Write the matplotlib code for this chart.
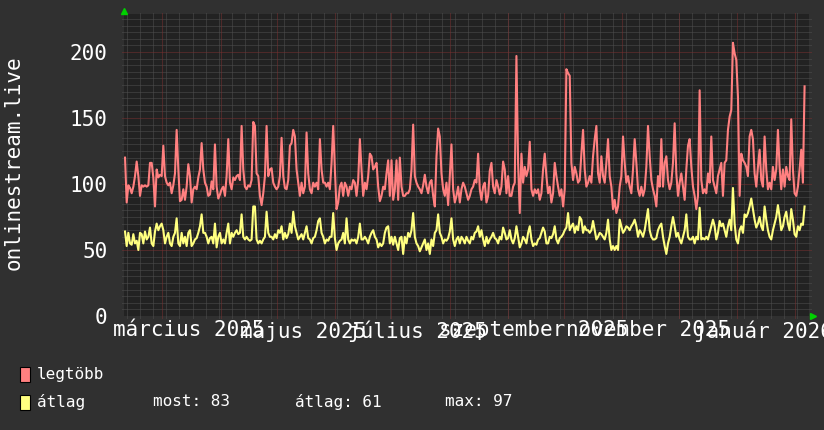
import matplotlib
matplotlib.use("Agg")
import matplotlib.pyplot as plt
import matplotlib.dates as mdates
from matplotlib.patches import Rectangle
from matplotlib.transforms import offset_copy
from datetime import datetime, timedelta

# napi adatok (legtöbb / átlag nézők)
legtobb = [
    120, 86, 99, 97, 93, 98, 106, 117, 106, 91, 99, 98, 99, 98, 99, 116, 116, 105, 83, 111,
    105, 107, 106, 129, 106, 101, 99, 101, 93, 99, 108, 141, 111, 87, 88, 96, 88, 98, 115, 106,
    86, 96, 98, 96, 105, 111, 131, 111, 101, 98, 91, 92, 102, 96, 130, 98, 89, 92, 96, 98,
    91, 106, 134, 101, 96, 105, 103, 106, 107, 103, 144, 111, 98, 96, 99, 98, 103, 147, 144, 108,
    106, 91, 84, 93, 106, 144, 106, 111, 112, 101, 98, 96, 98, 106, 135, 106, 97, 96, 103, 129,
    131, 141, 136, 111, 101, 91, 101, 93, 98, 139, 108, 96, 93, 101, 98, 101, 96, 134, 111, 101,
    101, 98, 101, 96, 116, 144, 111, 81, 86, 98, 101, 91, 101, 98, 91, 98, 96, 103, 101, 91,
    103, 134, 111, 91, 101, 96, 106, 123, 121, 111, 113, 116, 98, 87, 91, 98, 96, 108, 118, 91,
    118, 88, 96, 118, 88, 120, 98, 91, 91, 93, 93, 96, 111, 145, 106, 101, 98, 96, 93, 99,
    107, 98, 93, 101, 103, 91, 83, 121, 142, 136, 108, 96, 91, 101, 84, 106, 130, 96, 86, 91,
    98, 86, 96, 101, 98, 93, 88, 91,
    96, 98, 103, 101, 123, 96, 88, 98, 101, 86, 91, 110, 116, 98, 93, 103, 98, 92, 98, 117,
    111, 93, 106, 91, 91, 98, 101, 197, 116, 78, 123, 101, 113, 106, 111, 132, 96, 91, 96, 93,
    96, 88, 93, 111, 123, 106, 93, 98, 86, 93, 116, 106, 98, 91, 96, 83, 96, 187, 184, 182,
    116, 103, 113, 108, 101, 103, 123, 141, 111, 98, 101, 106, 101, 121, 134, 144, 108, 101, 121, 106,
    101, 116, 134, 106, 98, 81, 88, 78, 83, 98, 106, 136, 116, 101, 106, 98, 93, 111, 134, 116,
    96, 91, 98, 91, 96, 113, 144, 121, 103, 96, 91, 83, 106, 98, 134, 98, 116, 121, 103, 96,
    101, 116, 146, 108, 91, 101, 108, 98, 88, 111, 129, 134, 113, 98, 91, 81, 91, 171, 103, 93,
    96, 93, 108, 101, 136, 103, 98, 93, 106, 111, 116, 91, 116, 118, 141, 151, 156, 207, 199, 194,
    166, 91, 123, 118, 116, 113, 106, 136, 141, 134, 108, 98, 113, 126, 103, 98, 136, 111, 96, 101,
    96, 113, 103, 111, 141, 113, 96, 111, 98, 113, 106, 103, 149, 111, 93, 91, 98, 111, 126, 101,
    174,
]

atlag = [
    64, 53, 63, 55, 54, 62, 55, 57, 50, 63, 62, 55, 64, 58, 60, 67, 55, 53, 64, 70,
    65, 68, 70, 65, 55, 60, 63, 55, 53, 60, 63, 74, 55, 53, 63, 55, 60, 53, 63, 65,
    53, 55, 58, 59, 63, 68, 77, 63, 63, 60, 55, 59, 60, 55, 70, 52, 60, 63, 55, 58,
    55, 63, 70, 55, 63, 60, 63, 65, 62, 63, 77, 60, 58, 60, 58, 57, 58, 83, 83, 58,
    55, 57, 55, 58, 60, 79, 63, 60, 60, 58, 62, 59, 65, 63, 68, 58, 63, 59, 62, 70,
    63, 79, 68, 63, 58, 60, 62, 58, 63, 68, 59, 58, 55, 59, 60, 65, 72, 74, 63, 60,
    55, 58, 57, 60, 60, 78, 59, 50, 55, 57, 58, 63, 55, 74, 58, 55, 58, 57, 58, 55,
    60, 70, 58, 58, 60, 58, 55, 60, 63, 65, 60, 58, 52, 55, 53, 55, 63, 67, 68, 55,
    60, 54, 60, 55, 50, 59, 60, 47, 60, 55, 63, 60, 65, 78, 60, 55, 53, 49, 52, 55,
    58, 50, 55, 47, 58, 53, 63, 65, 77, 63, 60, 55, 58, 57, 59, 64, 74, 58, 53, 58,
    60, 55, 60, 58, 55, 60, 57, 55,
    60, 58, 63, 64, 68, 60, 65, 58, 53, 60, 55, 58, 60, 63, 59, 58, 55, 60, 58, 67,
    63, 58, 59, 65, 58, 55, 59, 68, 60, 52, 55, 60, 58, 55, 63, 68, 58, 53, 55, 54,
    58, 59, 63, 67, 64, 55, 55, 60, 59, 62, 68, 58, 55, 59, 60, 62, 65, 67, 78, 65,
    68, 70, 63, 68, 65, 75, 73, 63, 68, 65, 65, 63, 65, 72, 65, 58, 60, 63, 62, 60,
    58, 63, 73, 58, 50, 53, 50, 53, 50, 73, 68, 63, 65, 68, 67, 65, 68, 70, 73, 68,
    60, 65, 63, 60, 65, 73, 81, 65, 60, 58, 58, 59, 65, 68, 70, 60, 53, 47, 55, 60,
    68, 75, 68, 60, 63, 58, 55, 60, 65, 77, 60, 58, 58, 60, 55, 60, 58, 82, 58, 59,
    58, 60, 58, 63, 68, 73, 68, 58, 63, 72, 68, 70, 65, 60, 68, 73, 65, 97, 70, 58,
    55, 65, 68, 63, 77, 75, 78, 83, 89, 81, 73, 67, 70, 75, 68, 65, 83, 73, 65, 60,
    58, 65, 70, 75, 84, 75, 65, 68, 75, 79, 70, 65, 81, 73, 62, 60, 68, 65, 70, 69,
    83,
]

first_sample = datetime(2025, 2, 9, 1)
sample_step = timedelta(hours=21.3)
t_start = datetime(2025, 2, 8, 12)
t_end = datetime(2026, 2, 8, 12)
y_top = 228.8

month_labels = ["március 2025", "május 2025", "július 2025",
                "szeptember 2025", "november 2025", "január 2026"]
label_dates = [datetime(2025, 3, 15), datetime(2025, 5, 15), datetime(2025, 7, 15),
               datetime(2025, 9, 15), datetime(2025, 11, 15), datetime(2026, 1, 15)]
yticks = [0, 50, 100, 150, 200]

series_names = ["legtöbb", "átlag"]
most, atl, mx = 83, 61, 97

BG = "#303030"
PLOT_BG = "#222222"
RED = "#ff8080"
YEL = "#ffff80"
GRID = "#505050"
MAJOR = "#7a3030"

plt.rcParams['font.family'] = ['DejaVu Sans Mono']

times = [first_sample + i * sample_step for i in range(len(legtobb))]

fig = plt.figure(figsize=(8.24, 4.30), dpi=100, facecolor=BG)
ax = fig.add_axes([124 / 824, (430 - 316) / 430, 685 / 824, 302 / 430])
ax.set_facecolor(PLOT_BG)
ax.set_xlim(t_start, t_end)
ax.set_ylim(0, y_top)
for s in ax.spines.values():
    s.set_visible(False)

# grid: weekly / every 5 (gray), months / every 50 (red)
mondays = []
d = datetime(2025, 2, 10)
while d < t_end:
    mondays.append(d)
    d += timedelta(days=7)
months = [datetime(2025 + (m - 1) // 12, (m - 1) % 12 + 1, 1) for m in range(3, 15)]
xt = ax.get_xaxis_transform()
yt = ax.get_yaxis_transform()
ey = 2 / 302
ex = 2 / 685
minor_y = [v for v in range(5, 229, 5) if v % 50 != 0]
dots = (0, (1, 1))
ax.vlines(mdates.date2num(mondays), -ey, 1 + ey, transform=xt, colors=GRID,
          lw=0.72, linestyles=dots, clip_on=False, zorder=1)
ax.hlines(minor_y, -ex, 1 + ex, transform=yt, colors=GRID,
          lw=0.72, linestyles=dots, clip_on=False, zorder=1)
ax.vlines(mdates.date2num(months), -ey, 1 + ey, transform=xt, colors=MAJOR,
          lw=0.72, linestyles=dots, clip_on=False, zorder=1)
ax.hlines([50, 100, 150, 200], -ex, 1 + ex, transform=yt, colors=MAJOR,
          lw=0.72, linestyles=dots, clip_on=False, zorder=1)

ax.plot(times, legtobb, color=RED, lw=1.5, zorder=3)
ax.plot(times, atlag, color=YEL, lw=1.5, zorder=3)

ax.set_yticks(yticks)
ax.tick_params(axis='y', length=0, pad=12, labelsize=15, labelcolor='white')
ax.set_xticks(mdates.date2num(label_dates))
ax.set_xticklabels(month_labels)
ax.tick_params(axis='x', length=0, pad=3, labelsize=15, labelcolor='white')

fig.text(14 / 824, 1 - 163 / 430, "onlinestream.live", rotation=90,
         ha='center', va='center', fontsize=15, color='white')

# green arrows
ax.plot([0], [1], transform=offset_copy(ax.transAxes, fig=fig, x=0.5, y=3, units='dots'),
        marker='^', ms=5, color='#00d000', mec='#00d000', clip_on=False, zorder=5)
ax.plot([1], [0], transform=offset_copy(ax.transAxes, fig=fig, x=4, y=0, units='dots'),
        marker='>', ms=5, color='#00d000', mec='#00d000', clip_on=False, zorder=5)

# legend
for i, (name, col) in enumerate(zip(series_names, [RED, YEL])):
    yc = 374 + 28 * i
    fig.add_artist(Rectangle((20 / 824, 1 - (yc + 8) / 430), 10 / 824, 15 / 430,
                             transform=fig.transFigure, facecolor=col,
                             edgecolor='black', lw=0.8))
    fig.text(37 / 824, 1 - yc / 430, name, va='center', fontsize=11.5, color='white')

fig.text(153 / 824, 1 - 402 / 430, f"most: {most}", va='center', fontsize=11.5, color='white')
fig.text(295 / 824, 1 - 402 / 430, f"átlag: {atl}", va='center', fontsize=11.5, color='white')
fig.text(445 / 824, 1 - 402 / 430, f"max: {mx}", va='center', fontsize=11.5, color='white')

fig.savefig("out.png", dpi=100, facecolor=BG)
